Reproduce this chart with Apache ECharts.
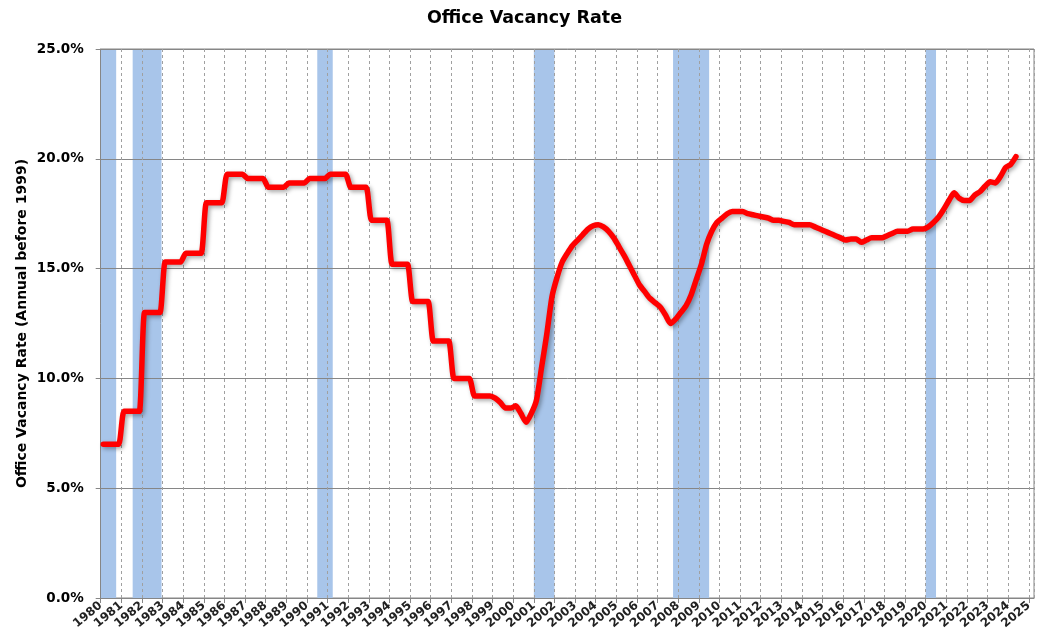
<!DOCTYPE html>
<html>
<head>
<meta charset="utf-8">
<script src="https://cdn.jsdelivr.net/npm/echarts@6/dist/echarts.min.js"></script>
<style>
  html, body { margin: 0; padding: 0; background: #fff; }
  #chart { width: 1049px; height: 630px; }
</style>
</head>
<body>
<div id="chart"></div>
<script>
// annual values 1980..1998 (%)
const annualYears = [1980, 1981, 1982, 1983, 1984, 1985, 1986, 1987, 1988, 1989,
                     1990, 1991, 1992, 1993, 1994, 1995, 1996, 1997, 1998];
const annualRate = [7.0, 8.5, 13.0, 15.3, 15.7, 18.0, 19.3, 19.1, 18.7, 18.9,
                    19.1, 19.3, 18.7, 17.2, 15.2, 13.5, 11.7, 10.0, 9.2];

// quarterly values from 1999 Q1 to 2024 Q2 (%)
const quarterStart = 1999;
const quarterlyRate = [
  9.1, 8.9, 8.65, 8.65,      // 1999
  8.75, 8.4, 8.0, 8.4,       // 2000
  9.0, 10.5, 12.0, 13.7,     // 2001
  14.6, 15.3, 15.7, 16.05,   // 2002
  16.3, 16.55, 16.8, 16.95,  // 2003
  17.0, 16.9, 16.7, 16.4,    // 2004
  16.0, 15.6, 15.15, 14.7,   // 2005
  14.25, 13.95, 13.65, 13.45,// 2006
  13.25, 12.9, 12.5, 12.7,   // 2007
  13.0, 13.3, 13.8, 14.5,    // 2008
  15.2, 16.1, 16.7, 17.1,    // 2009
  17.3, 17.5, 17.6, 17.6,    // 2010
  17.6, 17.5, 17.45, 17.4,   // 2011
  17.35, 17.3, 17.2, 17.2,   // 2012
  17.15, 17.1, 17.0, 17.0,   // 2013
  17.0, 17.0, 16.9, 16.8,    // 2014
  16.7, 16.6, 16.5, 16.4,    // 2015
  16.3, 16.35, 16.35, 16.2,  // 2016
  16.3, 16.4, 16.4, 16.4,    // 2017
  16.5, 16.6, 16.7, 16.7,    // 2018
  16.7, 16.8, 16.8, 16.8,    // 2019
  16.9, 17.1, 17.35, 17.7,   // 2020
  18.1, 18.45, 18.2, 18.1,   // 2021
  18.1, 18.35, 18.5, 18.75,  // 2022
  18.95, 18.9, 19.2, 19.6,   // 2023
  19.75, 20.1                // 2024
];

// recession shading (fractional years)
const recessionStart = [1980.0, 1981.55, 1990.5, 2001.0, 2007.75, 2020.0];
const recessionEnd   = [1980.75, 1982.95, 1991.25, 2002.0, 2009.5, 2020.5];

const yTicks = [0, 5, 10, 15, 20, 25];

// build the line: annual values held for each quarter, then quarterly data
let points = [];
annualYears.forEach(function (y, i) {
  for (let q = 0; q < 4; q++) {
    points.push([y + 0.125 + 0.25 * q, annualRate[i]]);
  }
});
quarterlyRate.forEach(function (v, i) {
  points.push([quarterStart + 0.125 + 0.25 * i, v]);
});

let areas = recessionStart.map(function (s, i) {
  return [{ xAxis: s }, { xAxis: recessionEnd[i] }];
});

let myChart = echarts.init(document.getElementById('chart'), null, { renderer: 'canvas' });

let option = {
  animation: false,
  backgroundColor: '#ffffff',
  title: {
    text: 'Office Vacancy Rate',
    left: 'center',
    top: 4,
    textStyle: {
      fontFamily: 'DejaVu Sans',
      fontWeight: 'bold',
      fontSize: 17.5,
      color: '#000'
    }
  },
  grid: {
    left: 100.7,
    right: 15,
    top: 49,
    bottom: 32,
    outerBoundsMode: 'none',
    containLabel: false,
    show: true,
    borderColor: '#868686',
    borderWidth: 1
  },
  xAxis: {
    type: 'value',
    min: 1980,
    max: 2025.25,
    interval: 1,
    z: 2,
    axisLine: { show: true, lineStyle: { color: '#868686', width: 1 } },
    axisTick: { show: true, length: 5, lineStyle: { color: '#868686' } },
    splitLine: {
      show: true,
      lineStyle: { color: '#a0a0a0', width: 1, type: [3, 3] }
    },
    axisLabel: {
      rotate: 40,
      margin: 6,
      fontFamily: 'DejaVu Sans',
      fontWeight: 'bold',
      fontSize: 12,
      color: '#222',
      showMaxLabel: false,
      formatter: function (v) {
        return Number.isInteger(v) ? String(v) : '';
      }
    }
  },
  yAxis: {
    type: 'value',
    min: yTicks[0],
    max: yTicks[yTicks.length - 1],
    interval: 5,
    z: 2,
    name: 'Office Vacancy Rate (Annual before 1999)',
    nameLocation: 'middle',
    nameGap: 71,
    nameMoveOverlap: false,
    nameTextStyle: {
      fontFamily: 'DejaVu Sans',
      fontWeight: 'bold',
      fontSize: 14,
      color: '#000'
    },
    axisLine: { show: true, lineStyle: { color: '#868686', width: 1 } },
    axisTick: { show: true, length: 5, lineStyle: { color: '#868686' } },
    splitLine: { show: true, lineStyle: { color: '#868686', width: 1 } },
    axisLabel: {
      margin: 17,
      fontFamily: 'DejaVu Sans',
      fontWeight: 'bold',
      fontSize: 13.5,
      color: '#000',
      formatter: function (v) { return v.toFixed(1) + '%'; }
    }
  },
  series: [
    {
      name: 'recessions',
      type: 'line',
      data: [],
      z: 1,
      silent: true,
      markArea: {
        silent: true,
        itemStyle: { color: '#a8c5ea' },
        data: areas
      }
    },
    {
      name: 'vacancy',
      type: 'line',
      data: points,
      z: 3,
      showSymbol: false,
      smooth: 0.2,
      lineStyle: {
        color: '#ff0000',
        width: 5.5,
        cap: 'round',
        join: 'round',
        shadowColor: 'rgba(0,0,0,0.35)',
        shadowBlur: 4,
        shadowOffsetX: 2,
        shadowOffsetY: 2
      }
    }
  ]
};

myChart.setOption(option, true);
</script>
</body>
</html>
